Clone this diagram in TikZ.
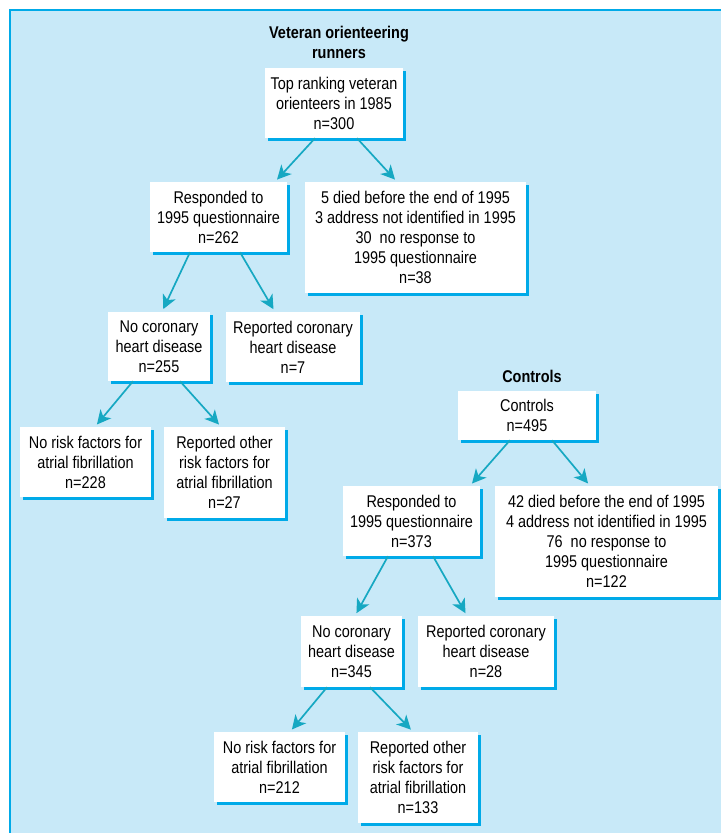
\documentclass[tikz,border=0pt]{standalone}
\usepackage{fontspec}
\setmainfont{Liberation Sans}[FakeStretch=0.85]
\usetikzlibrary{arrows.meta,shadows}
\definecolor{bgblue}{RGB}{200,233,248}
\definecolor{lineblue}{RGB}{0,170,232}
\definecolor{arrowteal}{RGB}{22,168,194}

\begin{document}
\begin{tikzpicture}[x=1pt,y=-1pt,
	box/.style={fill=white,inner sep=0pt,align=center,minimum width=#1,
		drop shadow={shadow xshift=2.5pt,shadow yshift=-2.5pt,fill=lineblue,opacity=1},
		font=\fontsize{17}{20}\selectfont},
	ttl/.style={align=center,font=\fontsize{17}{20}\selectfont\bfseries},
	arr/.style={draw=arrowteal,line width=1.7pt,-{Stealth[length=14pt,width=14pt,inset=4pt]},shorten >=3pt}]
	\useasboundingbox (0,0) rectangle (721,833);
	\fill[bgblue] (10,10) rectangle (721,833);
	\draw[lineblue,line width=2pt] (10,833) -- (10,10) -- (721,10);

	% veteran runners
	\node[ttl] (vettitle) at (339,42) {Veteran orienteering\\runners};
	\node[box=138pt,minimum height=70pt] (top) at (334,103) {Top ranking veteran\\orienteers in 1985\\n=300};
	\node[box=137pt,minimum height=70pt] (resp1) at (218.5,217) {Responded to\\1995 questionnaire\\n=262};
	\node[box=221pt,minimum height=111pt] (died1) at (415.5,237.5) {5 died before the end of 1995\\3 address not identified in 1995\\30~ no response to\\1995 questionnaire\\n=38};
	\node[box=102pt,minimum height=69pt] (nochd1) at (159,346.5) {No coronary\\heart disease\\n=255};
	\node[box=134pt,minimum height=70pt] (rep1) at (293,347) {Reported coronary\\heart disease\\n=7};
	\node[box=131pt,minimum height=70pt] (norisk1) at (85.5,462) {No risk factors for\\atrial fibrillation\\n=228};
	\node[box=121pt,minimum height=91pt] (other1) at (224.5,472.5) {Reported other\\risk factors for\\atrial fibrillation\\n=27};

	% controls
	\node[ttl] (ctrltitle) at (532,376) {Controls};
	\node[box=138pt,minimum height=49pt] (ctrl) at (527,415.5) {Controls\\n=495};
	\node[box=137pt,minimum height=70pt] (resp2) at (411.5,521) {Responded to\\1995 questionnaire\\n=373};
	\node[box=223pt,minimum height=111pt] (died2) at (606.5,541.5) {42 died before the end of 1995\\4 address not identified in 1995\\76~ no response to\\1995 questionnaire\\n=122};
	\node[box=101pt,minimum height=71pt] (nochd2) at (351.5,651.5) {No coronary\\heart disease\\n=345};
	\node[box=136pt,minimum height=71pt] (rep2) at (486,651.5) {Reported coronary\\heart disease\\n=28};
	\node[box=131pt,minimum height=70pt] (norisk2) at (279.5,767) {No risk factors for\\atrial fibrillation\\n=212};
	\node[box=120pt,minimum height=91pt] (other2) at (418,777.5) {Reported other\\risk factors for\\atrial fibrillation\\n=133};

	\draw[arr] ([xshift=-19pt]top.south) -- ([xshift=56.5pt]resp1.north);
	\draw[arr] ([xshift=23pt]top.south) -- ([xshift=-18.5pt]died1.north);
	\draw[arr] ([xshift=-28.5pt]resp1.south) -- ([xshift=3pt]nochd1.north);
	\draw[arr] ([xshift=21.5pt]resp1.south) -- ([xshift=-18pt]rep1.north);
	\draw[arr] ([xshift=-26pt]nochd1.south) -- ([xshift=9.5pt]norisk1.north);
	\draw[arr] ([xshift=21pt]nochd1.south) -- ([xshift=-3.5pt]other1.north);
	\draw[arr] ([xshift=-17pt]ctrl.south) -- ([xshift=58.5pt]resp2.north);
	\draw[arr] ([xshift=25pt]ctrl.south) -- ([xshift=-16.5pt]died2.north);
	\draw[arr] ([xshift=-23.5pt]resp2.south) -- ([xshift=3.5pt]nochd2.north);
	\draw[arr] ([xshift=21.5pt]resp2.south) -- ([xshift=-19pt]rep2.north);
	\draw[arr] ([xshift=-24.5pt]nochd2.south) -- ([xshift=10.5pt]norisk2.north);
	\draw[arr] ([xshift=18.5pt]nochd2.south) -- ([xshift=-5pt]other2.north);
\end{tikzpicture}
\end{document}
